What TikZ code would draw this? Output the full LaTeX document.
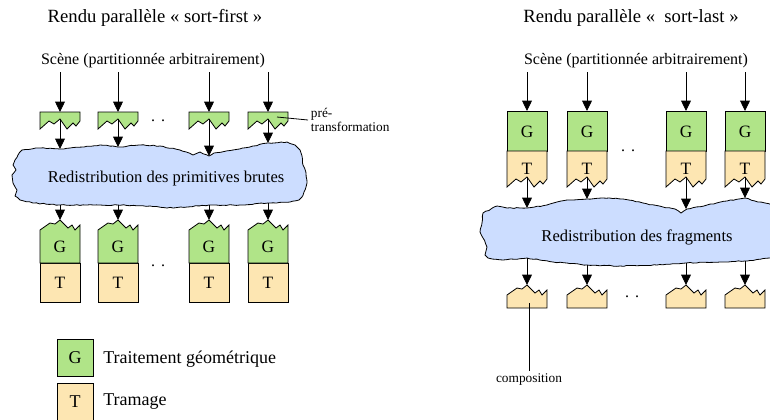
\documentclass[tikz,border=0pt]{standalone}
\usepackage{fontspec}
\setmainfont{Liberation Serif}
\usepackage{tikz}
\usetikzlibrary{arrows.meta,decorations.pathmorphing}

\definecolor{vert}{RGB}{176,228,136}
\definecolor{beige}{RGB}{253,230,178}
\definecolor{bleu}{RGB}{204,221,255}

\tikzset{
  fleche/.style={-{Triangle[length=7.8pt,width=7.4pt]},line width=0.6pt},
  bloc/.style={draw=black,line width=0.6pt},
  nuage/.style={fill=bleu,draw=black,line width=0.6pt,decorate,
    decoration={random steps,segment length=2.5pt,amplitude=0.35pt}},
  lettre/.style={font=\fontsize{13}{15}\selectfont},
  titre/.style={font=\fontsize{14}{16}\selectfont},
  texte/.style={font=\fontsize{12}{14}\selectfont},
  petit/.style={font=\fontsize{10}{10.5}\selectfont},
  legende/.style={bloc,minimum width=27pt,minimum height=27.75pt,inner sep=0pt,font=\fontsize{13.5}{15}\selectfont},
}

\begin{document}
\begin{tikzpicture}[x=0.75pt,y=-0.75pt]
  \useasboundingbox (0,0) rectangle (770,419);
  \pgfmathsetseed{7}

  % titres
  \node[titre] (titreA) at (155,18) {Rendu parallèle « sort-first »};
  \node[titre] (titreB) at (631,18) {Rendu parallèle «~~sort-last »};

  % sort-first
  \node[texte] (sceneA) at (153,61) {Scène (partitionnée arbitrairement)};

  \filldraw[nuage] (22,150) -- (40,148) -- (60,149) -- (84,147) -- (100,145) -- (118,147)
    -- (140,145) -- (160,146) -- (180,150) -- (193,155) -- (200,152) -- (209,156) -- (214,153)
    -- (233,150) -- (253,146) -- (268,143) -- (287,142) -- (295,145) -- (300,150)
    -- (302,156) -- (303,165) -- (306,173) -- (307,183) -- (304,192) -- (302,197) -- (299,200)
    -- (290,202) -- (268,203) -- (240,205) -- (209,205) -- (187,207) -- (167,208) -- (150,206)
    -- (118,205) -- (100,205) -- (60,205) -- (33,203) -- (20,200)
    -- (15,196) -- (17,190) -- (13,183) -- (12,175) -- (16,170) -- (13,165) -- (15,160) -- (18,155) -- cycle;
  \node[texte,font=\fontsize{12.4}{14}\selectfont] (redistA) at (166,179) {Redistribution des primitives brutes};

  \foreach \x/\n/\yh/\yb in {60/1/149/205,118/2/147/205,209/3/156/205,268/4/143/203}{
    \begin{scope}[shift={(\x,0)}]
      \filldraw[bloc,fill=vert] (-20,112) -- (20,112) -- (20,121) -- (16,126) -- (13,123) -- (7,129)
        -- (0,119) -- (-6,124) -- (-11,121) -- (-20,129) -- cycle;
      \filldraw[bloc,fill=beige] (-20,263) rectangle (20,302);
      \filldraw[bloc,fill=vert] (-20,263) -- (-20,230) -- (-10,223) -- (-5,224) -- (0,220) -- (8,228)
        -- (12,225) -- (15,230) -- (20,225) -- (20,263) -- cycle;
      \node[lettre] (g\n) at (0,247) {G};
      \node[lettre] (t\n) at (0,283) {T};
      \coordinate (s\n) at (0,72);
      \coordinate (pin\n) at (0,112);
      \coordinate (pout\n) at (0,119);
      \coordinate (hin\n) at (0,\yh);
      \coordinate (hout\n) at (0,\yb);
      \coordinate (gin\n) at (0,220);
    \end{scope}
    \draw[fleche] (s\n) -- (pin\n);
    \draw[fleche] (pout\n) -- (hin\n);
    \draw[fleche] (hout\n) -- (gin\n);
  }

  \node[texte] (ptsA) at (158,121) {.\hspace{4.5pt}.};
  \node[texte] (ptsB) at (158,266) {.\hspace{4.5pt}.};

  \coordinate (ptr) at (277,117);
  \node[petit,anchor=west,align=left,inner sep=2pt] (lblpre) at (308,120) {pré-\\transformation};
  \draw[bloc] (ptr) -- (lblpre.west);

  % legende
  \node[legende,fill=vert] (legG) at (75,357.5) {G};
  \node[legende,fill=beige] (legT) at (75,401.5) {T};
  \node[anchor=west,inner sep=0pt,font=\fontsize{13.5}{15}\selectfont] (txtG) at (103,359) {Traitement géométrique};
  \node[anchor=west,inner sep=0pt,font=\fontsize{13.5}{15}\selectfont] (txtT) at (103,402) {Tramage};

  % sort-last
  \node[texte] (sceneB) at (636,61) {Scène (partitionnée arbitrairement)};

  \filldraw[nuage] (483,213) -- (497,206) -- (507,208) -- (527,208) -- (547,205) -- (557,202)
    -- (570,200) -- (587,199) -- (603,198) -- (623,199) -- (643,203) -- (663,207) -- (675,209)
    -- (681,213) -- (687,209) -- (707,205) -- (727,201) -- (745,198) -- (755,201) -- (765,203)
    -- (775,205) -- (778,230) -- (775,257)
    -- (770,258) -- (745,261) -- (720,262) -- (686,263) -- (657,265) -- (620,266) -- (587,265)
    -- (553,262) -- (527,258) -- (503,260) -- (488,258)
    -- (485,255) -- (487,247) -- (483,238) -- (480,232) -- (482,223) -- cycle;
  \node[texte,font=\fontsize{12.4}{14}\selectfont] (redistB) at (637,237) {Redistribution des fragments};

  \foreach \x/\n/\yh/\yb in {527/5/208/258,587/6/199/265,686/7/209/263,745/8/198/261}{
    \begin{scope}[shift={(\x,0)}]
      \filldraw[bloc,fill=vert] (-20,111) rectangle (20,151);
      \filldraw[bloc,fill=beige] (-20,151) -- (20,151) -- (20,179) -- (16,184) -- (13,181) -- (7,187)
        -- (0,177) -- (-6,182) -- (-11,179) -- (-20,187) -- cycle;
      \filldraw[bloc,fill=beige] (-20,308) -- (-20,295) -- (-10,288) -- (-5,289) -- (0,285) -- (8,293)
        -- (12,290) -- (15,295) -- (20,290) -- (20,308) -- cycle;
      \node[lettre] (g\n) at (0,132) {G};
      \node[lettre] (t\n) at (0,169) {T};
      \coordinate (s\n) at (0,72);
      \coordinate (gin\n) at (0,111);
      \coordinate (tout\n) at (0,177);
      \coordinate (hin\n) at (0,\yh);
      \coordinate (hout\n) at (0,\yb);
      \coordinate (cin\n) at (0,285);
    \end{scope}
    \draw[fleche] (s\n) -- (gin\n);
    \draw[fleche] (tout\n) -- (hin\n);
    \draw[fleche] (hout\n) -- (cin\n);
  }

  \node[texte] (ptsC) at (628,151) {.\hspace{4.5pt}.};
  \node[texte] (ptsD) at (632,297) {.\hspace{4.5pt}.};

  \coordinate (comp) at (529,303);
  \node[petit,anchor=north,inner sep=2pt] (lblcomp) at (529,371) {composition};
  \draw[bloc] (comp) -- (lblcomp.north);
\end{tikzpicture}
\end{document}
